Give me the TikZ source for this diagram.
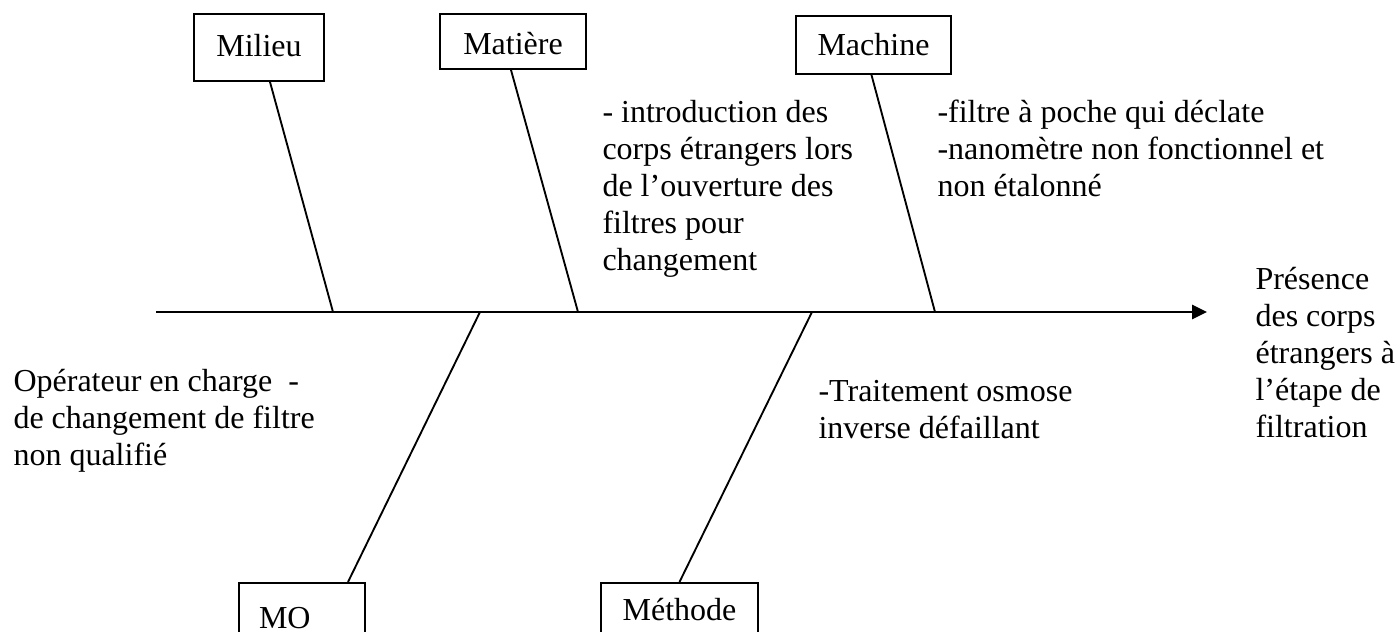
\documentclass[tikz,border=0pt]{standalone}
\usepackage{fontspec}
\setmainfont{Liberation Serif}
\usetikzlibrary{arrows.meta,calc}
% multi-line cause text, baseline on the first line
\newcommand{\fishtext}[1]{\begin{tabular}[t]{@{}l@{}}#1\end{tabular}}
\begin{document}
\begin{tikzpicture}[x=0.375pt,y=-0.375pt,
  catbox/.style={draw,line width=0.75pt,inner sep=0pt,text depth=0pt,
    font=\fontsize{12}{13.8}\selectfont},
  causetext/.style={anchor=base west,inner sep=0pt,
    font=\fontsize{12}{13.8}\selectfont},
  bone/.style={line width=0.7pt},
  spine/.style={line width=1.1pt,-{Triangle[length=5.6pt,width=5.2pt]}}]
\clip (0,0) rectangle (1397,632);
\fill[white] (0,0) rectangle (1397,632);

% category boxes
\node[catbox,anchor=north west,minimum width=48.75pt,minimum height=25.125pt,
  text height=6.4pt] (milieu) at (193,13) {Milieu};
\node[catbox,anchor=north west,minimum width=54.75pt,minimum height=20.625pt,
  text height=9.4pt] (matiere) at (439,13) {Matière};
\node[catbox,anchor=north west,minimum width=58.125pt,minimum height=21.75pt,
  text height=8.25pt] (machine) at (795,15) {Machine};
\node[catbox,anchor=north west,inner xsep=7.5pt,text width=32.25pt,align=left,
  minimum height=34.5pt,text height=0pt] (mo) at (238,582) {MO};
\node[catbox,anchor=north west,minimum width=58.875pt,minimum height=28.5pt,
  text height=0pt] (methode) at (600,582) {Méthode};

% spine and its junctions
\coordinate (tail) at (156,312);
\coordinate (head) at (1207,312);
\coordinate (jmilieu) at (333,312);
\coordinate (jmatiere) at (578,312);
\coordinate (jmachine) at (935,312);
\coordinate (jmo) at (480,312);
\coordinate (jmethode) at (812,312);

\draw[spine] (tail) -- (head);
\draw[bone] ($(milieu.south)+(11,0)$) -- (jmilieu);
\draw[bone] ($(matiere.south)+(-2,0)$) -- (jmatiere);
\draw[bone] ($(machine.south)+(-2,0)$) -- (jmachine);
\draw[bone] (jmo) -- ($(mo.north)+(46,0)$);
\draw[bone] (jmethode) -- (methode.north);

% causes and effect
\node[causetext] (tmatiere) at (602,123) {\fishtext{- introduction des\\corps étrangers lors\\de l’ouverture des\\filtres pour\\changement}};
\node[causetext] (tmachine) at (937,123) {\fishtext{-filtre à poche qui déclate\\-nanomètre non fonctionnel et\\non étalonné}};
\node[causetext] (tmethode) at (818,402) {\fishtext{-Traitement osmose\\inverse défaillant}};
\node[causetext] (tmo) at (13,392) {\fishtext{Opérateur en charge\ \ -\\de changement de filtre\\non qualifié}};
\node[causetext] (effect) at (1255,290) {\fishtext{Présence\\des corps\\étrangers à\\l’étape de\\filtration}};
\end{tikzpicture}
\end{document}
